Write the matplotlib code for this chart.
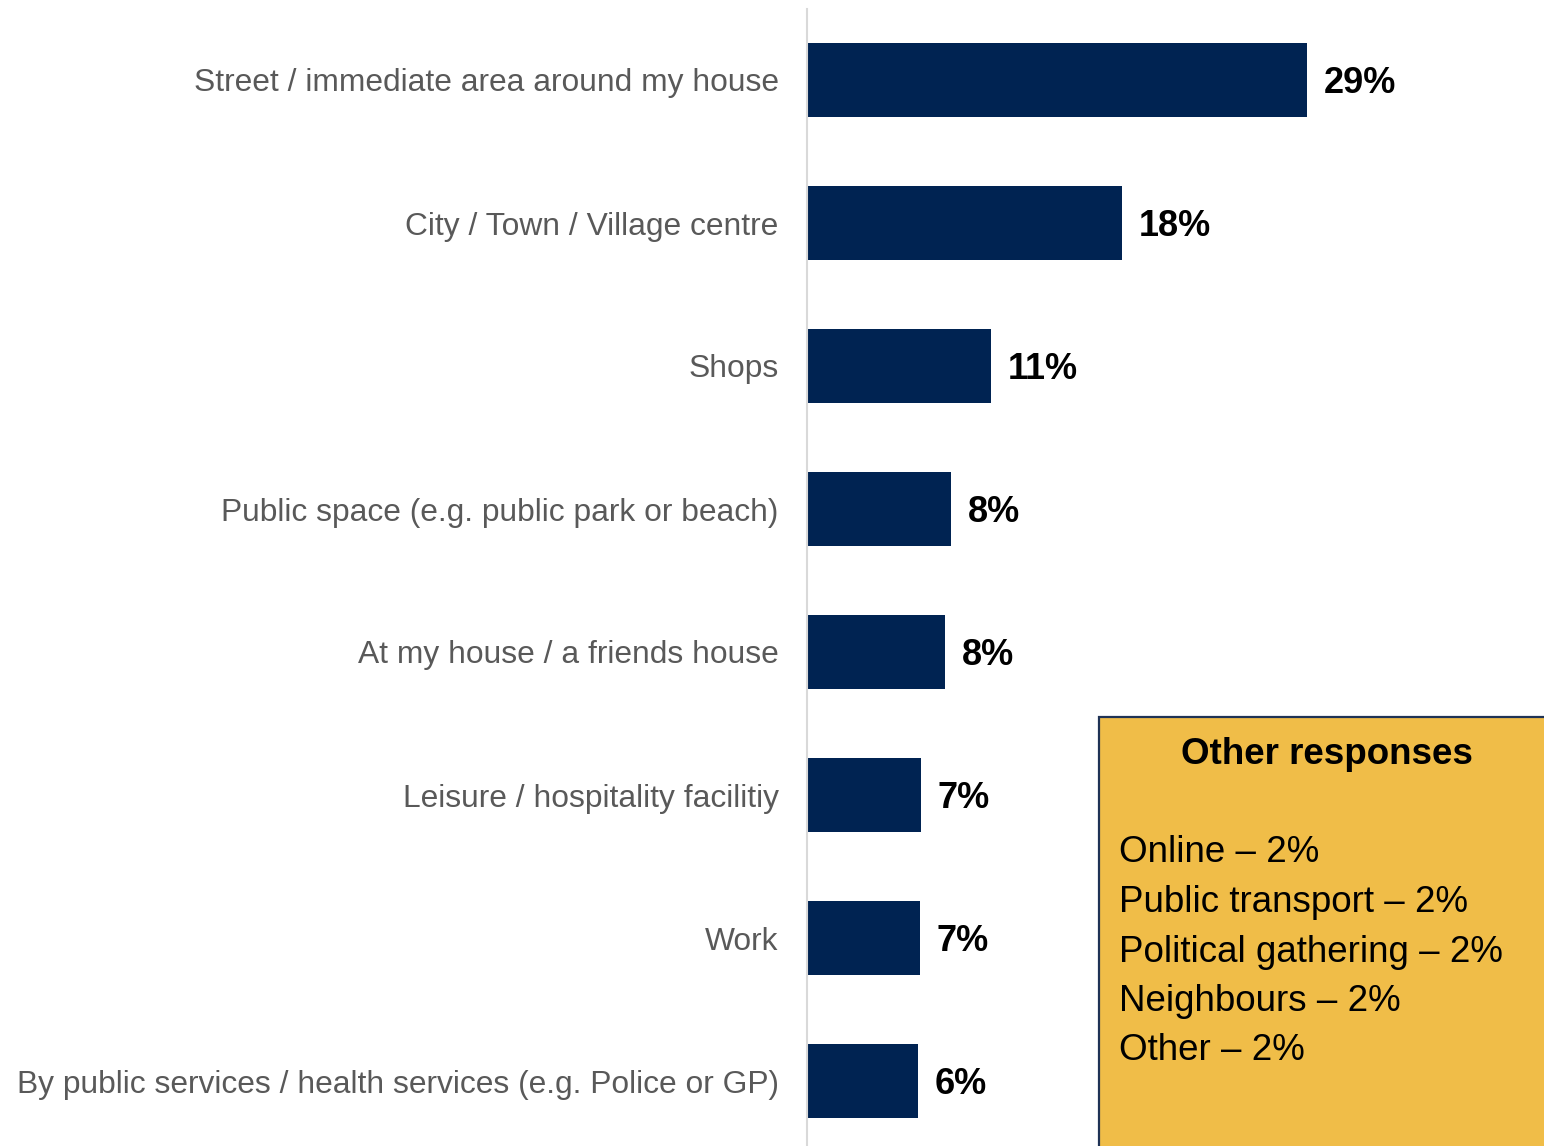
import matplotlib.pyplot as plt
from matplotlib.patches import Rectangle

plt.rcParams['font.family'] = ['Liberation Sans', 'DejaVu Sans']

# data
places = ["Street / immediate area around my house",
          "City / Town / Village centre",
          "Shops",
          "Public space (e.g. public park or beach)",
          "At my house / a friends house",
          "Leisure / hospitality facilitiy",
          "Work",
          "By public services / health services (e.g. Police or GP)"]
values = [29.0, 18.3, 10.7, 8.35, 8.0, 6.6, 6.55, 6.45]
value_labels = ["29%", "18%", "11%", "8%", "8%", "7%", "7%", "6%"]

other_title = "Other responses"
other_items = ["Online \u2013 2%", "Public transport \u2013 2%",
               "Political gathering \u2013 2%", "Neighbours \u2013 2%",
               "Other \u2013 2%"]

W, H = 1544, 1146
fig = plt.figure(figsize=(W / 100, H / 100), dpi=100)
# axes: left edge at bar start, eight 143px slots
ax = fig.add_axes([807 / W, -6.5 / H, 689.6 / W, 1144 / H])

y = list(range(len(places)))
ax.barh(y, values, height=0.52, color='#002352')
ax.set_ylim(len(places) - 0.5, -0.5)
ax.set_xlim(0, 40)

ax.set_yticks(y)
ax.set_yticklabels(places, fontsize=22.9, color='#595959')
ax.tick_params(axis='y', length=0, pad=20.5)
ax.set_xticks([])

for s in ['top', 'right', 'bottom']:
    ax.spines[s].set_visible(False)
ax.spines['left'].set_color('#D9D9D9')
ax.spines['left'].set_linewidth(1.5)

for yi, v, lab in zip(y, values, value_labels):
    ax.annotate(lab, (v, yi), xytext=(12, -2.2), textcoords='offset points',
                va='center', ha='left', fontsize=26, fontweight='bold',
                color='black')

# "Other responses" box in the lower right
box = Rectangle((1098.5 / W, -0.05), 0.4, 1 - 717 / H + 0.05,
                transform=fig.transFigure, facecolor='#F0BD48',
                edgecolor='#1F3255', linewidth=1.6, clip_on=False)
fig.add_artist(box)

fig.text(1327 / W, 1 - 755 / H, other_title, ha='center', va='center',
         fontsize=26.5, fontweight='bold', color='black')
for i, item in enumerate(other_items):
    fig.text(1119 / W, 1 - (853 + 49.5 * i) / H, item, ha='left',
             va='center', fontsize=26.5, color='black')

fig.savefig('out.png', dpi=100)
